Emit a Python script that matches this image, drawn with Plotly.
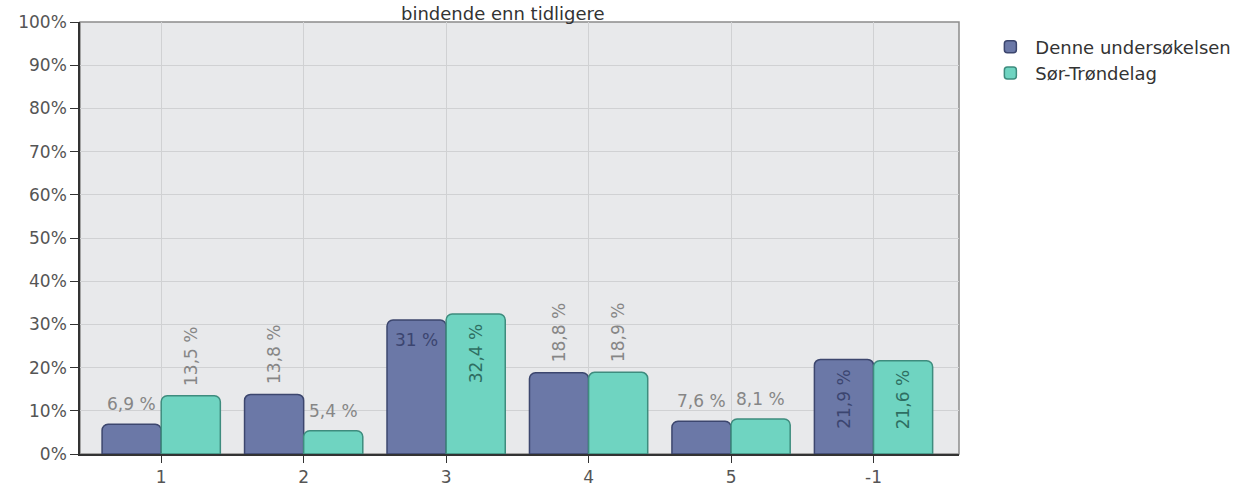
import plotly.graph_objects as go

# ---- data ----
categories = ["1", "2", "3", "4", "5", "-1"]
series_names = ["Denne undersøkelsen", "Sør-Trøndelag"]
denne = [6.9, 13.8, 31.0, 18.8, 7.6, 21.9]
sor_trondelag = [13.5, 5.4, 32.4, 18.9, 8.1, 21.6]
y_tick_values = [0, 10, 20, 30, 40, 50, 60, 70, 80, 90, 100]
y_tick_labels = ["0%", "10%", "20%", "30%", "40%", "50%", "60%", "70%", "80%", "90%", "100%"]
title_text = "bindende enn tidligere"

# ---- style ----
FONT = "DejaVu Sans"
fills = ["#6b78a7", "#6fd4c1"]
edges = ["#3c466e", "#3e8c7e"]
inside_colors = ["#3b4570", "#2e6e62"]
outside_color = "#868686"
# label placement per point: h = horizontal, r = rotated; out/in = outside/inside
label_modes = [
    ["h-out", "r-out", "h-in", "r-out", "h-out", "r-in"],
    ["r-out", "h-out", "r-in", "r-out", "h-out", "r-in"],
]
bargap = 0.17
M_L, M_R, M_T, M_B = 80, 293, 22, 34
PLOT_H = 488 - M_T - M_B

series_values = [denne, sor_trondelag]

fig = go.Figure()
for k, (name, vals) in enumerate(zip(series_names, series_values)):
    fig.add_trace(go.Bar(
        x=categories, y=vals, name=name,
        marker=dict(color=fills[k], line=dict(color=edges[k], width=1.5)),
        hoverinfo="x+y",
    ))

def fmt(v):
    s = f"{v:g}".replace(".", ",")
    return s + " %"

half = (1 - bargap) / 2
annotations = []
for k, vals in enumerate(series_values):
    off = (-0.5 + k) * half
    for i, v in enumerate(vals):
        mode = label_modes[k][i]
        rot = mode.startswith("r")
        inside = mode.endswith("in")
        annotations.append(dict(
            x=i + off, y=v, xref="x", yref="y",
            text=fmt(v), showarrow=False,
            textangle=-90 if rot else 0,
            yanchor="top" if inside else "bottom",
            xanchor="center",
            yshift=-8 if inside else 8,
            font=dict(family=FONT, size=17,
                      color=inside_colors[k] if inside else outside_color),
        ))

# title line (top of text box 1px below the page top)
annotations.append(dict(
    x=0.481, y=1 + (M_T - 1) / PLOT_H, xref="paper", yref="paper",
    xanchor="center", yanchor="top",
    text=title_text, showarrow=False,
    font=dict(family=FONT, size=18, color="#333333"),
))

fig.update_layout(
    width=1252, height=488,
    margin=dict(l=M_L, r=M_R, t=M_T, b=M_B, pad=0, autoexpand=False),
    paper_bgcolor="white",
    plot_bgcolor="#e8e9eb",
    barmode="group", bargap=bargap, bargroupgap=0,
    barcornerradius=6,
    font=dict(family=FONT, size=17, color="#555555"),
    showlegend=True,
    legend=dict(x=1.03, y=0.985, xanchor="left", yanchor="top",
                font=dict(family=FONT, size=18, color="#333333"),
                bgcolor="rgba(0,0,0,0)", itemwidth=40, tracegroupgap=6),
    annotations=annotations,
    shapes=[dict(type="rect", xref="paper", yref="paper", x0=0, y0=0, x1=1, y1=1,
                 line=dict(color="#8c8c8c", width=1.5), layer="below")],
)
fig.update_xaxes(
    type="category", range=[-0.57, 5.6], automargin=False,
    showgrid=True, gridcolor="#d0d1d3",
    showline=True, linecolor="#333333", linewidth=1.5,
    ticks="outside", ticklen=7, tickcolor="#333333",
    tickfont=dict(family=FONT, size=17, color="#555555"),
)
fig.update_yaxes(
    range=[0, 100], tickvals=y_tick_values, ticktext=y_tick_labels, automargin=False,
    showgrid=True, gridcolor="#d0d1d3", zeroline=False,
    showline=True, linecolor="#333333", linewidth=1.5,
    ticks="outside", ticklen=8, tickcolor="#333333",
    tickfont=dict(family=FONT, size=17, color="#555555"),
)

fig.write_html(
    "out.html",
    config={"displayModeBar": False},
    post_script="document.body.style.margin='0';document.body.style.overflow='hidden';",
)
